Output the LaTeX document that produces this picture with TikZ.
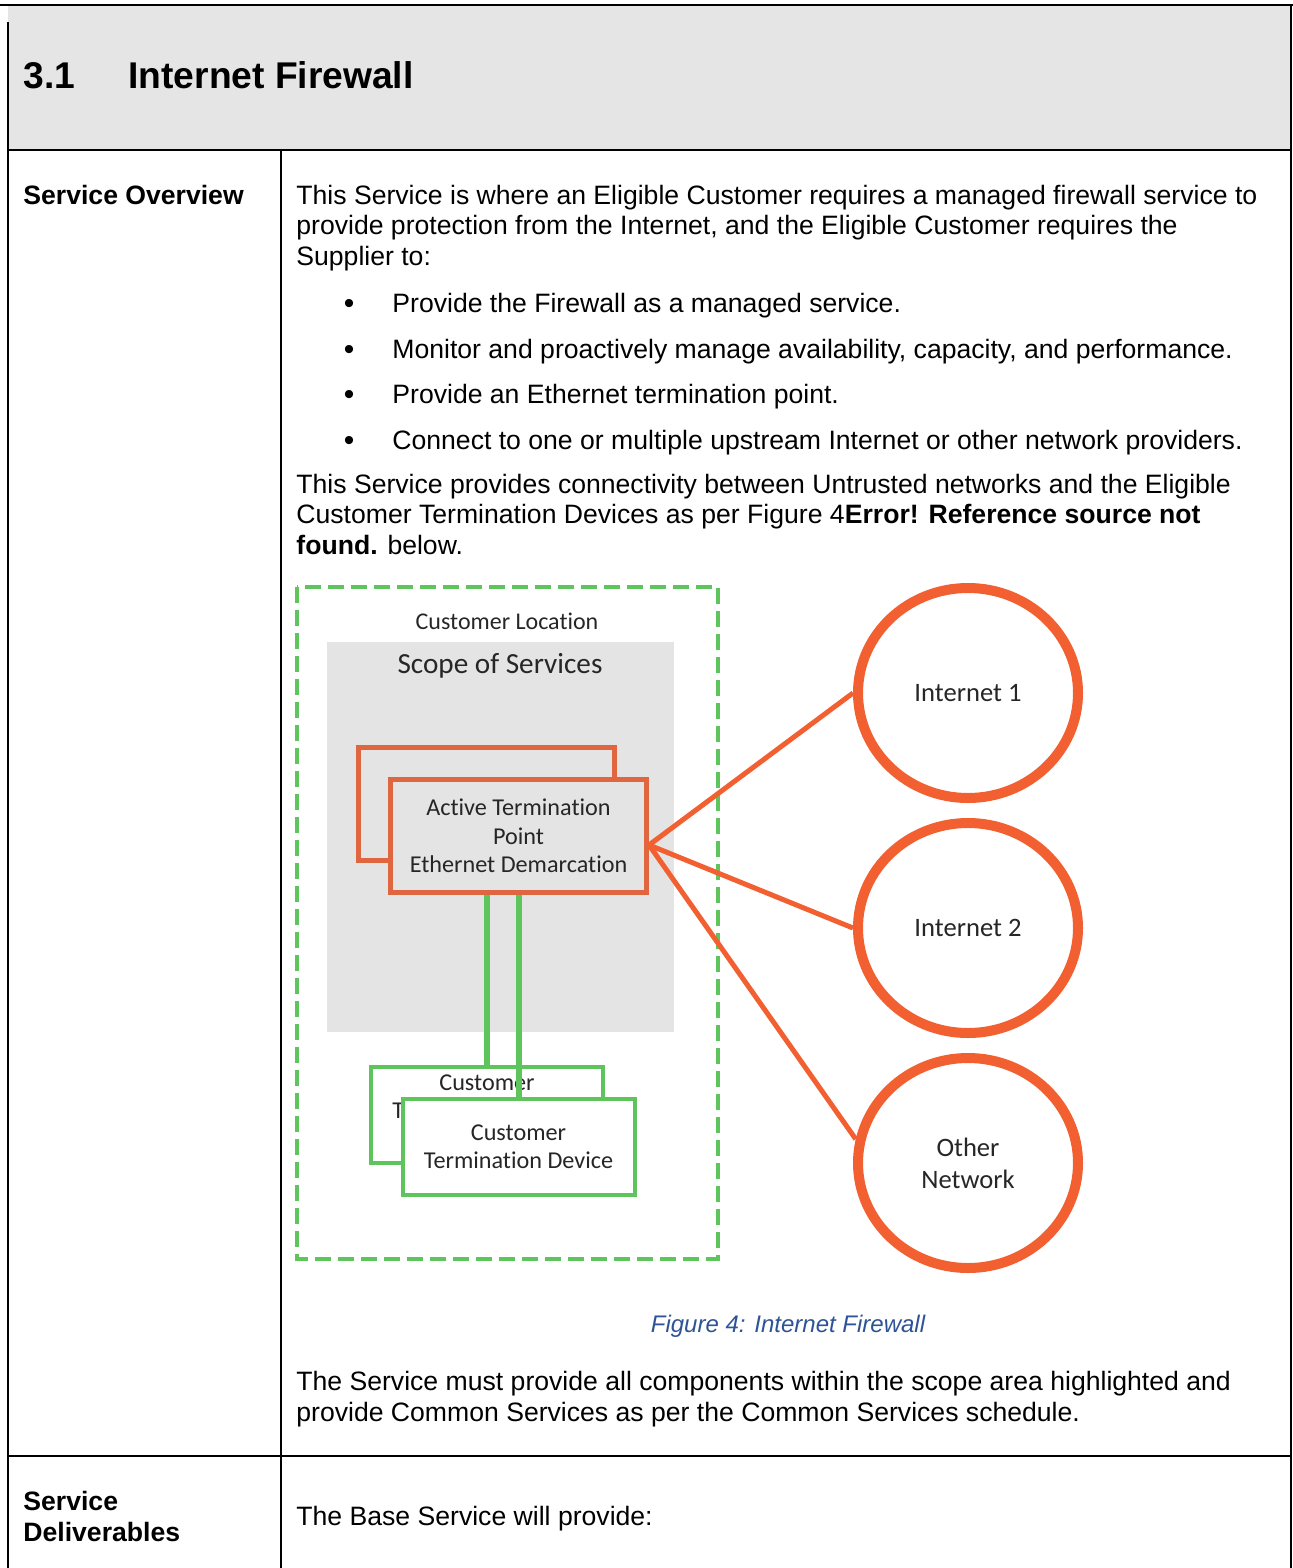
\documentclass[tikz,border=0pt]{standalone}
\usepackage{fontspec}
\setmainfont{Liberation Sans}
\newfontfamily\diagfont[Ligatures=NoCommon]{Carlito}
\usetikzlibrary{shapes.geometric, shadows}

\definecolor{hdrgray}{RGB}{229,229,229}
\definecolor{scopegray}{RGB}{228,228,228}
\definecolor{boxorange}{RGB}{224,102,64}
\definecolor{netorange}{RGB}{242,96,50}
\definecolor{locgreen}{RGB}{94,196,92}
\definecolor{capblue}{RGB}{46,84,150}
\definecolor{diagtext}{RGB}{38,38,38}

\tikzstyle{cell} = [line width=1pt, draw=black]
\tikzstyle{heading} = [anchor=base west, 
	inner sep=0pt, 
	font=\bfseries\fontsize{18.6}{22}\selectfont
	]
\tikzstyle{bodytext} = [anchor=base west, 
	inner sep=0pt, 
	align=left, 
	font=\fontsize{13.3}{15.25}\selectfont
	]
\tikzstyle{rowhead} = [bodytext, 
	font=\bfseries\fontsize{13.3}{15.25}\selectfont
	]
\tikzstyle{dot} = [anchor=base, 
	inner sep=0pt, 
	font=\fontsize{15}{15.25}\selectfont
	]
\tikzstyle{captext} = [inner sep=0pt, 
	text=capblue, 
	font=\itshape\fontsize{12}{14}\selectfont
	]
\tikzstyle{difftext} = [inner sep=0pt, 
	text=diagtext, 
	align=center, 
	font=\diagfont\fontsize{12}{14.25}\selectfont
	]
\tikzstyle{atpbox} = [rectangle, 
	minimum width=128pt, 
	minimum height=56.5pt, 
	text centered, 
	align=center, 
	draw=boxorange, 
	line width=2.5pt, 
	fill=scopegray, 
	text=diagtext, 
	font=\diagfont\fontsize{12.1}{14.25}\selectfont
	]
\tikzstyle{ctdbox} = [rectangle, 
	minimum width=116pt, 
	minimum height=48pt, 
	text centered, 
	align=center, 
	draw=locgreen, 
	line width=2pt, 
	fill=white, 
	text=diagtext, 
	font=\diagfont\fontsize{12.1}{14}\selectfont
	]
\tikzstyle{netnode} = [ellipse, 
	minimum width=110pt, 
	minimum height=105pt, 
	text centered, 
	align=center, 
	draw=netorange, 
	line width=5pt, 
	fill=white, 
	text=diagtext, 
	drop shadow={opacity=0.18, shadow xshift=1pt, shadow yshift=-2pt}, 
	font=\diagfont\fontsize{13.3}{16}\selectfont
	]
\tikzstyle{wanlink} = [line width=2.5pt, draw=netorange]
\tikzstyle{uplink} = [line width=3pt, draw=locgreen]

\begin{document}
\begin{tikzpicture}[x=0.5pt, y=-0.5pt]
\useasboundingbox (0,0) rectangle (1293,1568);

% table frame
\fill [hdrgray] (8,5) rectangle (1292,150);
\draw [cell] (0,5) -- (1293,5);
\draw [cell] (8,22) -- (8,1568);
\draw [cell] (1291,5) -- (1291,1568);
\draw [cell] (8,150) -- (1292,150);
\draw [cell] (281,150) -- (281,1568);
\draw [cell] (8,1456) -- (1292,1456);

\node (secnum) [heading] at (23,89) {3.1};
\node (sectitle) [heading] at (128,89) {Internet Firewall};

% multi-line texts sit on their last baseline
\node (ovhead) [rowhead] at (23,204) {Service Overview};
\node (ovintro) [bodytext] at (296,265) {This Service is where an Eligible Customer requires a managed firewall service to\\provide protection from the Internet, and the Eligible Customer requires the\\Supplier to:};

\node (dotA) [dot] at (349,313) {•};
\node (dotB) [dot] at (349,359) {•};
\node (dotC) [dot] at (349,404) {•};
\node (dotD) [dot] at (349,450) {•};
\node (bulA) [bodytext] at (392,312) {Provide the Firewall as a managed service.};
\node (bulB) [bodytext] at (392,358) {Monitor and proactively manage availability, capacity, and performance.};
\node (bulC) [bodytext] at (392,403) {Provide an Ethernet termination point.};
\node (bulD) [bodytext] at (392,449) {Connect to one or multiple upstream Internet or other network providers.};

\node (ovconn) [bodytext] at (296,554) {This Service provides connectivity between Untrusted networks and the Eligible\\Customer Termination Devices as per Figure 4\textbf{Error! Reference source not}\\\textbf{found.} below.};

% figure
\draw [locgreen, line width=2pt, dash pattern=on 8pt off 3.5pt] (297,587) rectangle (718,1259);
\fill [scopegray] (327,642) rectangle (674,1032);
\node (locname) [difftext] at (507,621) {Customer Location};
\node (scopename) [difftext, font=\diagfont\fontsize{14.6}{17}\selectfont] at (500,666) {Scope of Services};

\node (atpback) [atpbox] at (486.5,803.5) {};
\node (atp) [atpbox] at (518.5,836) {Active Termination\\Point\\Ethernet Demarcation};

\node (ctdback) [ctdbox] at (487,1115) {Customer\\Termination Device\\\strut};
\coordinate (ctdtop) at (518.5,1097);
\draw [uplink] (atp.south -| ctdback.north) -- (ctdback.north);
\draw [uplink] (atp.south) -- (ctdtop);
\node (ctd) [ctdbox] at (518.5,1147) {Customer\\Termination Device};

\coordinate (hub) at ([yshift=-4.5pt]atp.east);
\node (inet1) [netnode] at (968,693) {Internet 1};
\node (inet2) [netnode] at (968,928) {Internet 2};
\node (othernet) [netnode] at (968,1163) {Other\\Network};

\draw [wanlink] (hub) -- (inet1.west);
\draw [wanlink] (hub) -- (inet2.west);
\draw [wanlink] (hub) -- (othernet.168);

\node (figcap) [captext] at (788,1326) {Figure 4: Internet Firewall};

\node (ovscope) [bodytext] at (296,1421) {The Service must provide all components within the scope area highlighted and\\provide Common Services as per the Common Services schedule.};

\node (delhead) [rowhead] at (23,1541) {Service\\Deliverables};
\node (delintro) [bodytext] at (296,1525) {The Base Service will provide:};

\end{tikzpicture}
\end{document}
